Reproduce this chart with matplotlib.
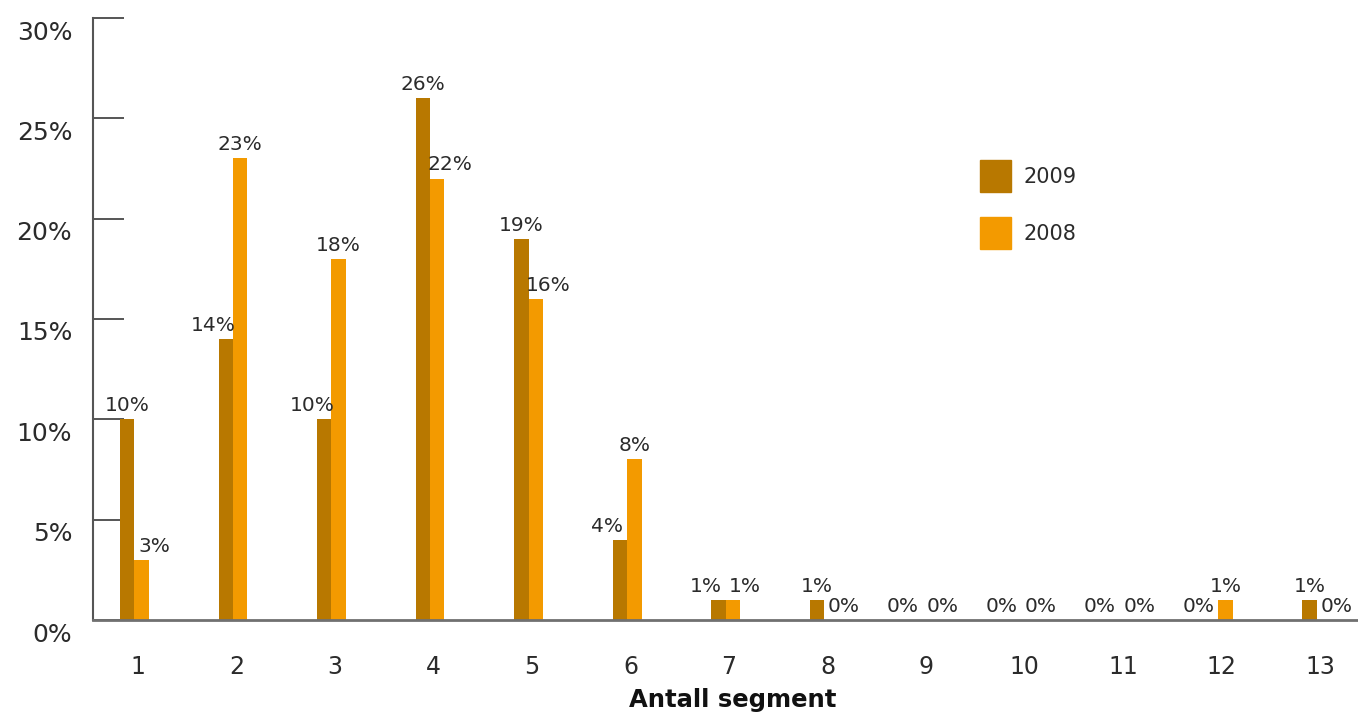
import numpy as np
import matplotlib
matplotlib.use("Agg")
import matplotlib.pyplot as plt
import matplotlib.transforms as mtransforms
from matplotlib.patches import Patch

plt.rcParams['font.family'] = ['DejaVu Sans']

# andel per antall segment
segmenter = [1, 2, 3, 4, 5, 6, 7, 8, 9, 10, 11, 12, 13]
andel_2009 = [10, 14, 10, 26, 19, 4, 1, 1, 0, 0, 0, 0, 1]
andel_2008 = [3, 23, 18, 22, 16, 8, 1, 0, 0, 0, 0, 1, 0]
y_ticks = [0, 5, 10, 15, 20, 25, 30]

farge_2009 = '#B87800'
farge_2008 = '#F39A00'
tekst = '#2b2b2b'

fig = plt.figure(figsize=(13.58, 7.13), dpi=100)
ax = fig.add_axes([93 / 1358, 93 / 713, 1 - 93 / 1358, (620 - 18) / 713])

x = np.array(segmenter, dtype=float)
w = 0.147
ax.bar(x - w, andel_2009, width=w, align='edge', color=farge_2009, zorder=2)
ax.bar(x, andel_2008, width=w, align='edge', color=farge_2008, zorder=2)

# verdietiketter: høyeste søyle i paret får etiketten midt over,
# den laveste skyves litt utover
for xi, v09, v08 in zip(x, andel_2009, andel_2008):
    dx09 = 0 if v09 > v08 else -9
    dx08 = 0 if v08 > v09 else 9
    ax.annotate(f"{v09}%", (xi - w / 2, v09), xytext=(dx09, 3), textcoords='offset points',
                ha='center', va='bottom', fontsize=14.5, color=tekst)
    ax.annotate(f"{v08}%", (xi + w / 2, v08), xytext=(dx08, 3), textcoords='offset points',
                ha='center', va='bottom', fontsize=14.5, color=tekst)

ax.set_xlim(0.579, 13.42)
ax.set_ylim(0, 30)
ax.set_yticks(y_ticks)
ax.set_yticklabels([f"{t}%" for t in y_ticks])
ax.set_xticks(x + 0.035)
ax.set_xticklabels([str(s) for s in segmenter])

ax.tick_params(axis='y', direction='in', length=22, width=1.4, color='#555555',
               labelsize=18, pad=15, labelcolor=tekst)
ax.tick_params(axis='x', length=0, labelsize=17, pad=25, labelcolor=tekst)

# prosentetikettene står litt under strekene
ned = mtransforms.ScaledTranslation(0, -12 / 100, fig.dpi_scale_trans)
for lab in ax.get_yticklabels():
    lab.set_transform(lab.get_transform() + ned)

for side in ['top', 'right']:
    ax.spines[side].set_visible(False)
ax.spines['left'].set_color('#555555')
ax.spines['left'].set_linewidth(1.5)
ax.spines['bottom'].set_color('#707070')
ax.spines['bottom'].set_linewidth(2)

ax.set_xlabel("Antall segment", fontsize=17.5, fontweight='bold', color='#111111')
ax.xaxis.set_label_coords(0.506, -0.113)

handles = [Patch(color=farge_2009), Patch(color=farge_2008)]
fig.legend(handles, ['2009', '2008'], loc='upper left',
           bbox_to_anchor=(980 / 1358, 1 - 160 / 713), bbox_transform=fig.transFigure,
           frameon=False, fontsize=15, borderpad=0, borderaxespad=0, labelcolor=tekst,
           handlelength=1.47, handleheight=2.0, handletextpad=0.6, labelspacing=1.2)

fig.savefig("out.png", dpi=100)
